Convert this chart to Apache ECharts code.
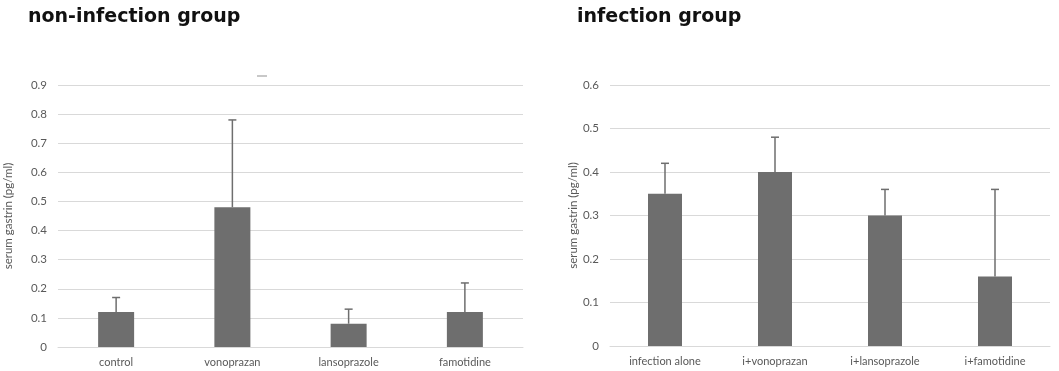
<!DOCTYPE html>
<html>
<head>
<meta charset="utf-8">
<script src="https://cdn.jsdelivr.net/npm/echarts@6/dist/echarts.min.js"></script>
<style>
  html, body { margin: 0; padding: 0; background: #fff; }
  #main { width: 1059px; height: 371px; }
</style>
</head>
<body>
<div id="main"></div>
<script>
// non-infection group
const leftCats = ['control', 'vonoprazan', 'lansoprazole', 'famotidine'];
const leftMeans = [0.12, 0.48, 0.08, 0.12];
const leftUpper = [0.17, 0.78, 0.13, 0.22];

// infection group
const rightCats = ['infection alone', 'i+vonoprazan', 'i+lansoprazole', 'i+famotidine'];
const rightMeans = [0.35, 0.40, 0.30, 0.16];
const rightUpper = [0.42, 0.48, 0.36, 0.36];

const barColor = '#6e6e6e';
const textColor = '#595959';
const labelFont = 'Lato, "Liberation Sans", sans-serif';

const myChart = echarts.init(document.getElementById('main'));

// error bar: line from bar top to upper value, with a small cap
function errorItem(params, api) {
  const x = api.value(0);
  const base = api.coord([x, api.value(1)]);
  const top = api.coord([x, api.value(2)]);
  const style = { stroke: barColor, lineWidth: 1.5 };
  return {
    type: 'group',
    children: [
      { type: 'line', shape: { x1: base[0], y1: base[1], x2: top[0], y2: top[1] }, style: style },
      { type: 'line', shape: { x1: top[0] - 4, y1: top[1], x2: top[0] + 4, y2: top[1] }, style: style }
    ]
  };
}

function xAx(idx, cats) {
  return {
    type: 'category',
    gridIndex: idx,
    data: cats,
    axisTick: { show: false },
    axisLine: { lineStyle: { color: '#d9d9d9', width: 1 } },
    axisLabel: { color: textColor, fontFamily: labelFont, fontSize: 11, margin: 10 }
  };
}

function yAx(idx, max, gap) {
  return {
    type: 'value',
    gridIndex: idx,
    min: 0,
    max: max,
    interval: 0.1,
    name: 'serum gastrin (pg/ml)',
    nameLocation: 'middle',
    nameGap: gap,
    nameTextStyle: { color: textColor, fontFamily: labelFont, fontSize: 11.5 },
    axisLine: { show: false },
    axisTick: { show: false },
    splitLine: { lineStyle: { color: '#d9d9d9', width: 1 } },
    axisLabel: {
      color: textColor, fontFamily: labelFont, fontSize: 11.5, margin: 11,
      formatter: v => (Math.round(v * 10) / 10).toString()
    }
  };
}

const titleStyle = { fontFamily: '"DejaVu Sans", sans-serif', fontWeight: 'bold', fontSize: 19, color: '#111' };

const option = {
  animation: false,
  title: [
    { text: 'non-infection group', left: 23, top: 3, textStyle: titleStyle },
    { text: 'infection group', left: 572, top: 3, textStyle: titleStyle }
  ],
  grid: [
    { left: 58, right: 536, top: 85, bottom: 24 },
    { left: 610, right: 9, top: 85, bottom: 25 }
  ],
  xAxis: [xAx(0, leftCats), xAx(1, rightCats)],
  yAxis: [yAx(0, 0.9, 44), yAx(1, 0.6, 21)],
  series: [
    {
      type: 'bar', xAxisIndex: 0, yAxisIndex: 0, data: leftMeans,
      barWidth: 36, itemStyle: { color: barColor }, z: 2
    },
    {
      type: 'custom', xAxisIndex: 0, yAxisIndex: 0,
      data: leftMeans.map((m, i) => [i, m, leftUpper[i]]),
      renderItem: errorItem, z: 3
    },
    {
      type: 'bar', xAxisIndex: 1, yAxisIndex: 1, data: rightMeans,
      barWidth: 34, itemStyle: { color: barColor }, z: 2
    },
    {
      type: 'custom', xAxisIndex: 1, yAxisIndex: 1,
      data: rightMeans.map((m, i) => [i, m, rightUpper[i]]),
      renderItem: errorItem, z: 3
    }
  ],
  graphic: [
    // small stray mark above the left plot
    { type: 'line', shape: { x1: 257, y1: 76, x2: 267, y2: 76 },
      style: { stroke: '#c8c8c8', lineWidth: 2 } }
  ]
};

myChart.setOption(option);
</script>
</body>
</html>
